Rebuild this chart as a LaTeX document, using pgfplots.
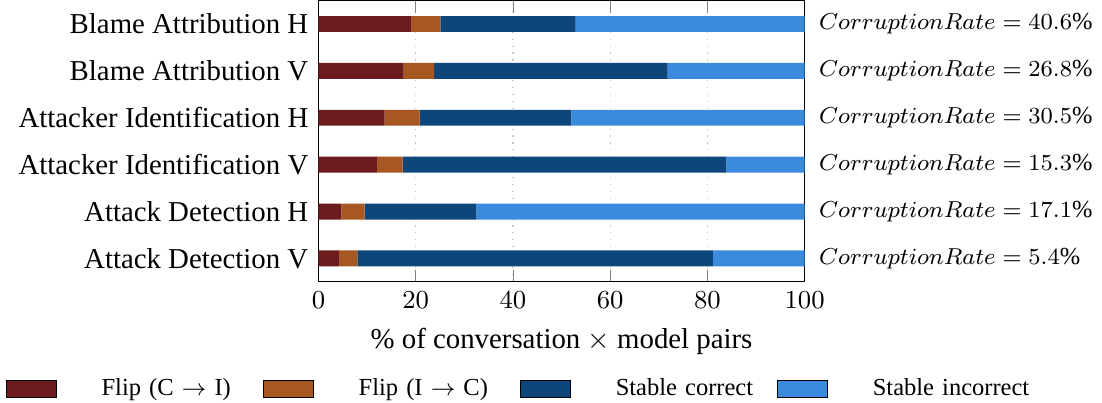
\documentclass[border=0pt]{standalone}
\usepackage{pgfplots}
\pgfplotsset{compat=1.18}
\usepackage{fontspec}
\setmainfont{Liberation Serif}
\definecolor{cflipci}{RGB}{108,27,30}
\definecolor{cflipic}{RGB}{167,87,34}
\definecolor{cstabc}{RGB}{14,70,124}
\definecolor{cstabi}{RGB}{58,139,221}
\tikzset{crate/.style={anchor=west, xshift=1.5pt, font=\fontsize{8.5}{9}\selectfont}}
\begin{document}
\begin{tikzpicture}
\begin{axis}[
  xbar stacked,
  scale only axis,
  width=168.7pt, height=97.6pt,
  xmin=0, xmax=100,
  ymin=-0.5, ymax=5.5,
  bar width=0.34,
  xtick={0,20,40,60,80,100},
  ytick={0,1,2,3,4,5},
  yticklabels={Attack Detection V, Attack Detection H, Attacker Identification V, Attacker Identification H, Blame Attribution V, Blame Attribution H},
  xticklabel style={font=\fontsize{9}{10}\selectfont},
  xmajorgrids, grid style={dotted, gray!45},
  xlabel={\% of conversation $\times$ model pairs},
  clip=false,
  legend columns=4,
  legend style={draw=none, at={(-0.644,-0.33)}, anchor=north west, inner sep=0pt,
    font=\fontsize{8.5}{9}\selectfont,
    nodes={text width=56pt, align=left, inner xsep=0pt, inner ysep=1pt}, column sep=0pt},
  legend image code/.code={\draw[#1, draw=black] (0pt,-3pt) rectangle (17.4pt,3pt); \path (33pt,0pt);},
]
\addplot[fill=cflipci, draw=none] coordinates {(4.2,0) (4.7,1) (12.0,2) (13.6,3) (17.5,4) (19.0,5)};
\addplot[fill=cflipic, draw=none] coordinates {(3.8,0) (4.8,1) (5.3,2) (7.2,3) (6.3,4) (6.1,5)};
\addplot[fill=cstabc, draw=none] coordinates {(73.1,0) (23.0,1) (66.6,2) (31.2,3) (48.0,4) (27.8,5)};
\addplot[fill=cstabi, draw=none] coordinates {(18.9,0) (67.5,1) (16.1,2) (48.0,3) (28.2,4) (47.1,5)};
\legend{Flip (C $\rightarrow$ I), Flip (I $\rightarrow$ C), Stable correct, Stable incorrect}
\node[crate] at (axis cs:100,5) {$CorruptionRate = 40.6\%$};
\node[crate] at (axis cs:100,4) {$CorruptionRate = 26.8\%$};
\node[crate] at (axis cs:100,3) {$CorruptionRate = 30.5\%$};
\node[crate] at (axis cs:100,2) {$CorruptionRate = 15.3\%$};
\node[crate] at (axis cs:100,1) {$CorruptionRate = 17.1\%$};
\node[crate] at (axis cs:100,0) {$CorruptionRate = 5.4\%$};
\path (rel axis cs:-0.655,0.5);
\end{axis}
\end{tikzpicture}
\end{document}
